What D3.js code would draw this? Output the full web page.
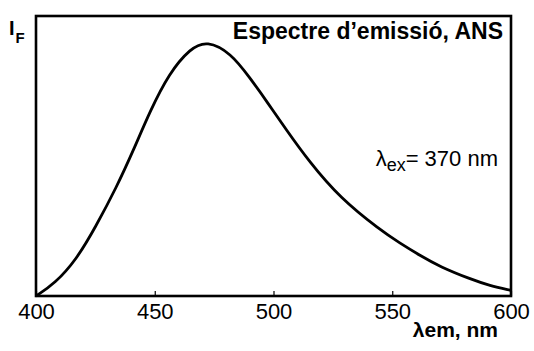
<!DOCTYPE html>
<html>
<head>
<meta charset="utf-8">
<script src="https://cdn.jsdelivr.net/npm/d3@7"></script>
<style>
  body { margin: 0; background: #fff; }
  text { font-family: "Liberation Sans", Arial, sans-serif; fill: #000; }
</style>
</head>
<body>
<div id="plot"></div>
<script>
// DATA
let wavelengths = [400, 408, 417, 425, 434, 441, 448, 456, 465, 472, 482, 490, 498, 505, 515, 528, 545, 553, 562, 570, 583, 591, 600];
let intensities = [0, 0.045, 0.13, 0.245, 0.39, 0.52, 0.66, 0.795, 0.885, 0.912, 0.868, 0.78, 0.685, 0.598, 0.48, 0.35, 0.235, 0.19, 0.143, 0.105, 0.06, 0.037, 0.02];
let tickValues = [400, 450, 500, 550, 600];

let w = 534, h = 351;
let margin = {left: 36, right: 23, top: 16, bottom: 55};

let svg = d3.select("#plot").append("svg")
    .attr("width", w)
    .attr("height", h);

let xScale = d3.scaleLinear()
    .domain([400, 600])
    .range([margin.left, w - margin.right]);

let yScale = d3.scaleLinear()
    .domain([0, 1])
    .range([h - margin.bottom, margin.top]);

//Curve
let line = d3.line()
    .x(function(d, i) { return xScale(wavelengths[i]); })
    .y(function(d) { return yScale(d); })
    .curve(d3.curveBasis);

svg.append("path")
    .datum(intensities)
    .attr("d", line)
    .attr("fill", "none")
    .attr("stroke", "#000")
    .attr("stroke-width", 2.8);

//Frame
svg.append("rect")
    .attr("x", margin.left)
    .attr("y", margin.top)
    .attr("width", w - margin.left - margin.right)
    .attr("height", h - margin.top - margin.bottom)
    .attr("fill", "none")
    .attr("stroke", "#000")
    .attr("stroke-width", 2.6);

//x axis, ticks pointing inward
let xAxis = d3.axisBottom(xScale)
    .tickValues(tickValues)
    .tickSizeInner(-5)
    .tickSizeOuter(0)
    .tickPadding(7);

let axisG = svg.append("g")
    .attr("transform", "translate(0," + (h - margin.bottom) + ")")
    .call(xAxis);
axisG.select(".domain").remove();
axisG.selectAll(".tick line").attr("stroke", "#000").attr("stroke-width", 1.2);
axisG.selectAll(".tick text")
    .attr("font-size", 22)
    .attr("font-family", "Liberation Sans, Arial, sans-serif")
    .attr("fill", "#000");

//Labels
let yLabel = svg.append("text")
    .attr("x", 9)
    .attr("y", 35)
    .attr("font-size", 20)
    .attr("font-weight", "bold");
yLabel.append("tspan").text("I");
yLabel.append("tspan").attr("dy", 8).attr("dx", 1).attr("font-size", 15).text("F");

svg.append("text")
    .attr("x", 503)
    .attr("y", 39)
    .attr("text-anchor", "end")
    .attr("font-size", 23)
    .attr("font-weight", "bold")
    .text("Espectre d\u2019emissi\u00f3, ANS");

let exLabel = svg.append("text")
    .attr("x", 498)
    .attr("y", 166)
    .attr("text-anchor", "end")
    .attr("font-size", 22);
exLabel.append("tspan").text("\u03bb");
exLabel.append("tspan").attr("dy", 5).attr("font-size", 18).text("ex");
exLabel.append("tspan").attr("dy", -5).text("= 370 nm");

svg.append("text")
    .attr("x", 498)
    .attr("y", 337)
    .attr("text-anchor", "end")
    .attr("font-size", 21)
    .attr("font-weight", "bold")
    .text("\u03bbem, nm");
</script>
</body>
</html>
